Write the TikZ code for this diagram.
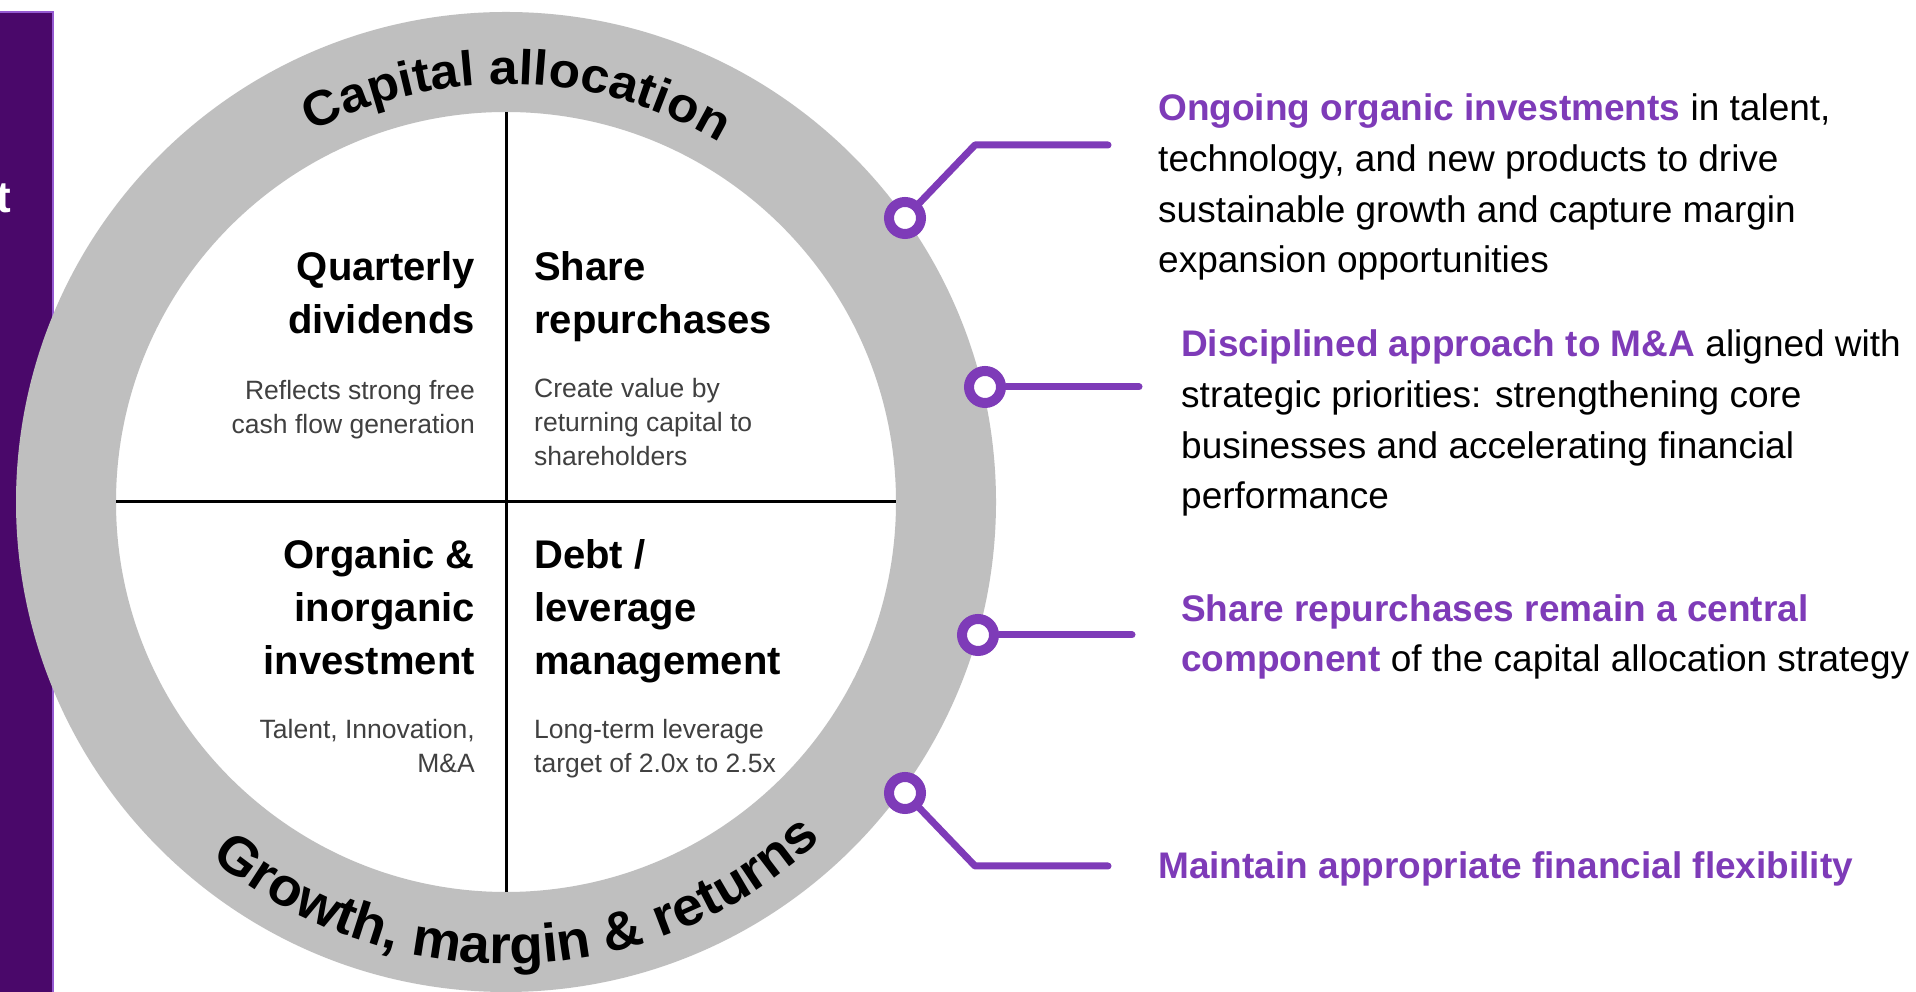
\documentclass[tikz,border=0pt]{standalone}
\usepackage{fontspec}
\setmainfont{Liberation Sans}
\newfontfamily\ringfontA[FakeStretch=1.05]{Liberation Sans}
\newfontfamily\ringfontB[FakeStretch=1.02]{Liberation Sans}
\usetikzlibrary{decorations.text}
\definecolor{purp}{RGB}{126,59,184}
\definecolor{darkpurp}{RGB}{74,8,106}
\definecolor{lightpurp}{RGB}{150,90,210}
\definecolor{ringgray}{RGB}{191,191,191}
\definecolor{subgray}{RGB}{64,64,64}
\begin{document}
\begin{tikzpicture}[x=1pt,y=1pt,
  title/.style={font=\bfseries\fontsize{40}{53}\selectfont, inner sep=0pt, text=black},
  sub/.style={font=\fontsize{26.5}{34}\selectfont, inner sep=0pt, text=subgray},
  rtext/.style={font=\fontsize{37}{50.7}\selectfont, inner sep=0pt, anchor=base west, align=left},
  marker/.style={circle, draw=purp, line width=10pt, fill=white, minimum size=32pt, inner sep=0pt},
  conn/.style={draw=purp, line width=7pt, line cap=round, line join=round},
  divider/.style={draw=black, line width=3pt}]
\useasboundingbox (0,0) rectangle (1916,992);
\fill[white] (0,0) rectangle (1916,992);
% left bar
\fill[darkpurp] (-10,-10) rectangle (53,980);
\draw[lightpurp, line width=2pt] (-10,980) -- (53,980) -- (53,-10);
\node[anchor=base east, text=white, font=\bfseries\fontsize{44}{44}\selectfont, inner sep=0pt] (tchar) at (11,779) {t};
% ring
\coordinate (O) at (506,490);
\fill[ringgray, even odd rule] (O) circle[radius=490pt] (O) circle[radius=390pt];
% dividers
\coordinate (vtop) at (506,880);
\coordinate (vbot) at (506,100);
\coordinate (hl) at (116,490);
\coordinate (hr) at (896,490);
\draw[divider] (vtop) -- (vbot);
\draw[divider] (hl) -- (hr);
% ring texts
\path[decorate, decoration={text along path, text align=center,
  text={|\ringfontA\bfseries\fontsize{49}{49}\selectfont|Capital allocation}}]
  (O) ++(148.5:418pt) arc[start angle=148.5, end angle=28.5, radius=418pt];
\path[decorate, decoration={text along path, text align=center,
  text={|\ringfontB\bfseries\fontsize{54}{54}\selectfont|Growth, margin {\&} returns}}]
  (O) ++(181.7:462pt) arc[start angle=181.7, end angle=361.7, radius=462pt];
% quadrants (base anchor = last line)
\node[title, anchor=base east, align=right] (q1) at (475,658) {Quarterly\\dividends};
\node[sub, anchor=base east, align=right] (q1s) at (475,558) {Reflects strong free\\cash flow generation};
\node[title, anchor=base west, align=left] (q2) at (534,658) {Share\\repurchases};
\node[sub, anchor=base west, align=left] (q2s) at (534,526) {Create value by\\returning capital to\\shareholders};
\node[title, anchor=base east, align=right] (q3) at (475,317) {Organic \&\\inorganic\\investment};
\node[sub, anchor=base east, align=right] (q3s) at (475,219) {Talent, Innovation,\\M\&A};
\node[title, anchor=base west, align=left] (q4) at (534,317) {Debt /\\leverage\\management};
\node[sub, anchor=base west, align=left] (q4s) at (534,219) {Long-term leverage\\target of 2.0x to 2.5x};
% markers and connectors
\node[marker] (m1) at (905,774) {};
\coordinate (c1) at (975,847);
\coordinate (e1) at (1108,847);
\draw[conn] (m1) -- (c1) -- (e1);
\node[marker] (m2) at (985,605) {};
\coordinate (e2) at (1139,605);
\draw[conn] (m2) -- (e2);
\node[marker] (m3) at (978,357) {};
\coordinate (e3) at (1132,357);
\draw[conn] (m3) -- (e3);
\node[marker] (m4) at (905,199) {};
\coordinate (c4) at (975,126);
\coordinate (e4) at (1108,126);
\draw[conn] (m4) -- (c4) -- (e4);
% right texts (base anchor = last line)
\node[rtext] (t1) at (1158,719) {\textcolor{purp}{\bfseries Ongoing organic investments} in talent,\\technology, and new products to drive\\sustainable growth and capture margin\\expansion opportunities};
\node[rtext] (t2) at (1181,483) {\textcolor{purp}{\bfseries Disciplined approach to M\&A} aligned with\\strategic priorities: strengthening core\\businesses and accelerating financial\\performance};
\node[rtext] (t3) at (1181,320) {\textcolor{purp}{\bfseries Share repurchases remain a central}\\\textcolor{purp}{\bfseries component} of the capital allocation strategy};
\node[rtext] (t4) at (1158,113) {\textcolor{purp}{\bfseries Maintain appropriate financial flexibility}};
\end{tikzpicture}
\end{document}
